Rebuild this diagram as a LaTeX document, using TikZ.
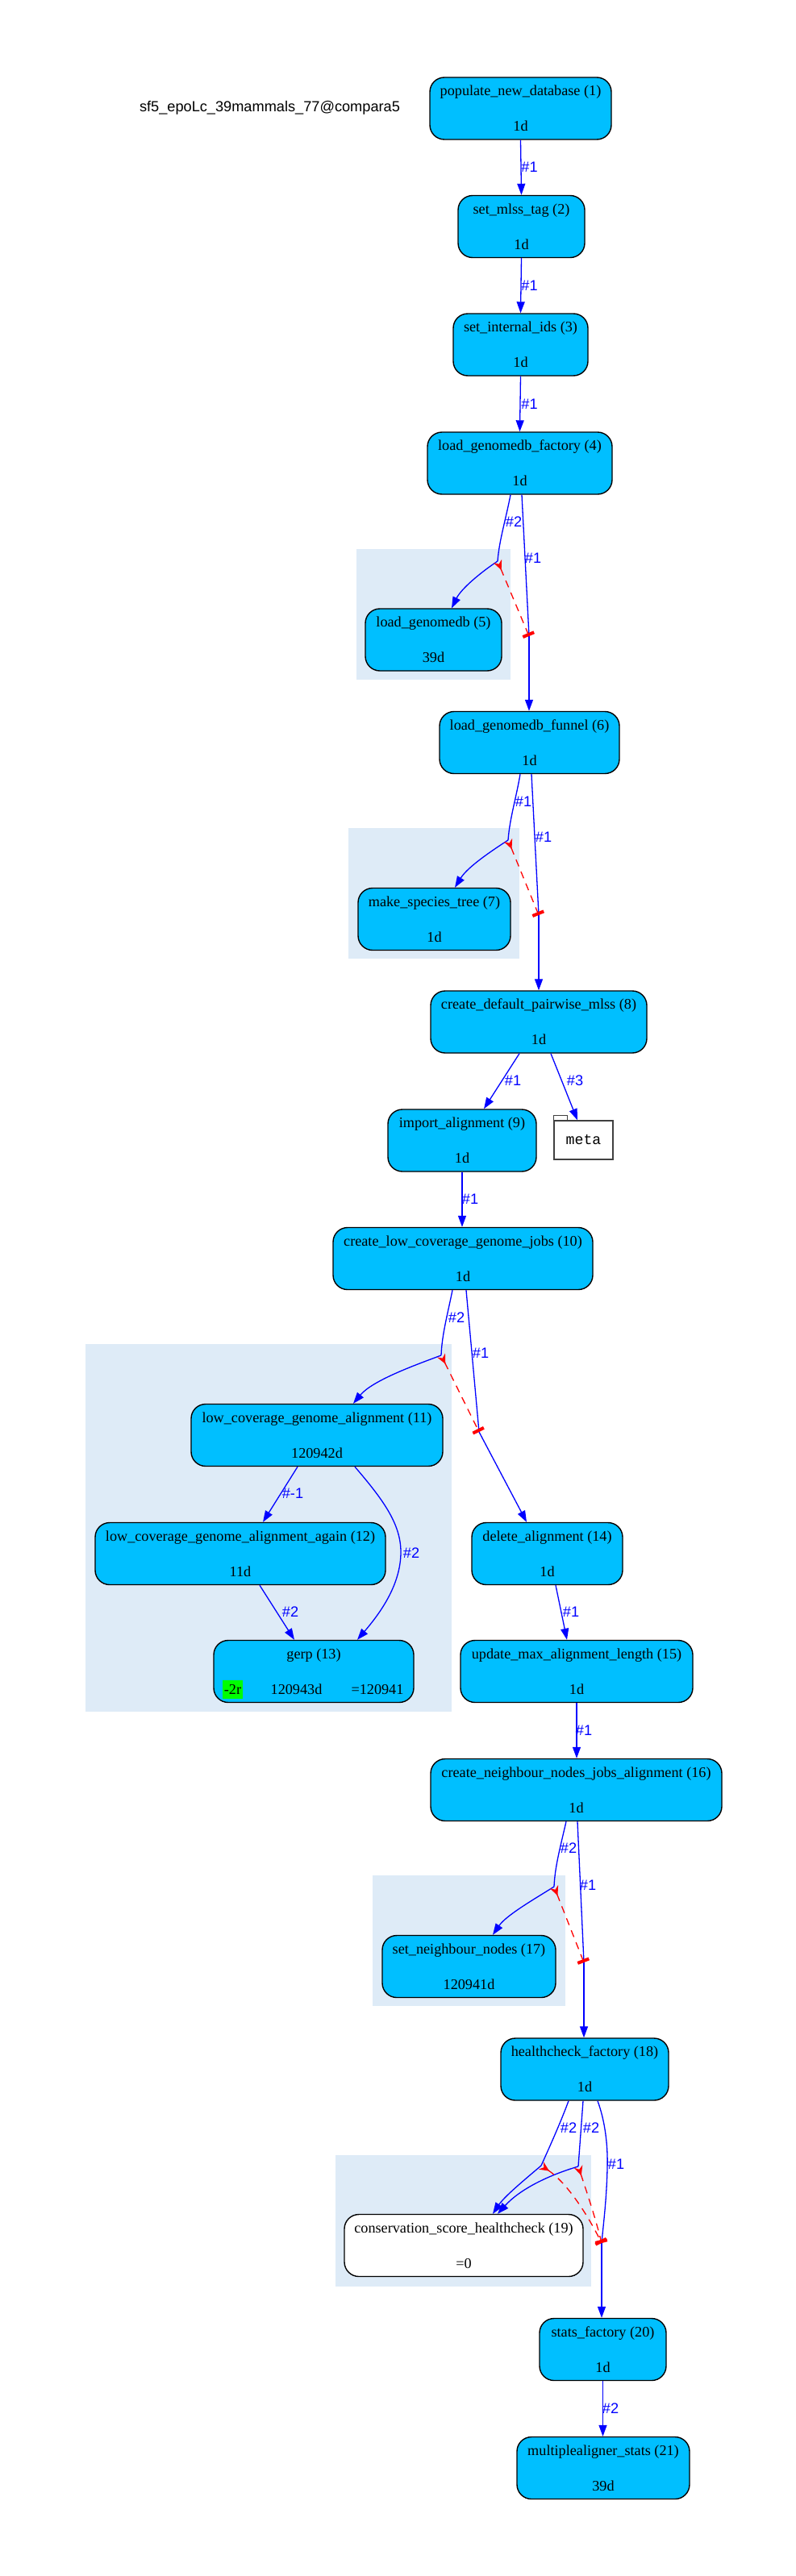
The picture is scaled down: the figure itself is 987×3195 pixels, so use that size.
\documentclass[tikz,border=0pt]{standalone}
\usepackage{fontspec}
\setmainfont{Liberation Serif}
\newfontfamily\lsans{Liberation Sans}
\newfontfamily\lmono{Liberation Mono}
\usetikzlibrary{arrows.meta,calc}
\definecolor{dsb}{RGB}{0,191,255}
\definecolor{clu}{RGB}{222,235,247}
\definecolor{grn}{RGB}{0,255,0}
\begin{document}
\begin{tikzpicture}[x=1pt,y=-1pt,
  job/.style={draw=black, line width=1.4pt, fill=dsb, rounded corners=18pt,
    minimum height=77pt, inner sep=0pt, align=center,
    font=\fontsize{18.2}{22}\selectfont},
  wjob/.style={job, fill=white},
  txt/.style={inner sep=0pt, font=\fontsize{18.2}{22}\selectfont},
  lbl/.style={inner sep=0pt, text=blue, font=\lsans\fontsize{18.2}{20}\selectfont},
  flow/.style={draw=blue, line width=1.3pt, -{Triangle[length=14pt,width=10pt]}},
  fan/.style={draw=blue, line width=1.3pt},
  semaph/.style={draw=red, line width=1.3pt, dash pattern=on 9pt off 7pt,
    {Stealth[reversed,length=12pt,width=11pt,inset=4pt]}-{Rectangle[length=4pt,width=15pt]}},
  clusterbox/.style={fill=clu, draw=none}
]
\useasboundingbox[fill=white] (0,0) rectangle (987,3195);

% clusters
\fill[clu] (442,681) rectangle (633,843);
\fill[clu] (432,1027) rectangle (644,1189);
\fill[clu] (106,1667) rectangle (560,2123);
\fill[clu] (462,2326) rectangle (701,2488);
\fill[clu] (416,2673) rectangle (733,2836);

% title
\node[inner sep=0pt, font=\lsans\fontsize{18.2}{20}\selectfont] (title) at (334.5,134) {sf5\_epoLc\_39mammals\_77@compara5};

% nodes
\node[job, minimum width=225pt] (n1) at (645.5,134.5) {populate\_new\_database (1)\\[22pt]1d};
\node[job, minimum width=157pt] (n2) at (646.5,281) {set\_mlss\_tag (2)\\[22pt]1d};
\node[job, minimum width=167pt] (n3) at (645.5,427.5) {set\_internal\_ids (3)\\[22pt]1d};
\node[job, minimum width=229pt] (n4) at (644.5,574.5) {load\_genomedb\_factory (4)\\[22pt]1d};
\node[job, minimum width=169pt] (n5) at (537.5,793.5) {load\_genomedb (5)\\[22pt]39d};
\node[job, minimum width=223pt] (n6) at (656.5,921) {load\_genomedb\_funnel (6)\\[22pt]1d};
\node[job, minimum width=189pt] (n7) at (538.5,1140) {make\_species\_tree (7)\\[22pt]1d};
\node[job, minimum width=268pt] (n8) at (668,1267.5) {create\_default\_pairwise\_mlss (8)\\[22pt]1d};
\node[job, minimum width=184pt] (n9) at (573,1414.5) {import\_alignment (9)\\[22pt]1d};
\node[draw=black!75, line width=1.4pt, fill=white, minimum width=73pt, minimum height=48pt, inner sep=0pt,
  font=\lmono\fontsize{18.2}{20}\selectfont] (meta) at (723.5,1414) {meta};
\draw[draw=black!75, line width=1.4pt, fill=white] (meta.north west) -- ++(0,-6) -- ++(17,0) -- ++(0,6);
\node[job, minimum width=322pt] (n10) at (574,1561) {create\_low\_coverage\_genome\_jobs (10)\\[22pt]1d};
\node[job, minimum width=312pt] (n11) at (393,1780) {low\_coverage\_genome\_alignment (11)\\[22pt]120942d};
\node[job, minimum width=360pt] (n12) at (298,1927) {low\_coverage\_genome\_alignment\_again (12)\\[22pt]11d};
\node[job, minimum width=248pt] (n13) at (389,2073) {};
\node[txt] (n13t) at (389,2053) {gerp (13)};
\node[txt, fill=grn, minimum width=25pt, minimum height=23pt] (n13r) at (288.5,2095.5) {-2r};
\node[txt] (n13d) at (367.5,2095.5) {120943d};
\node[txt] (n13e) at (468,2095.5) {=120941};
\node[job, minimum width=187pt] (n14) at (678.5,1927) {delete\_alignment (14)\\[22pt]1d};
\node[job, minimum width=288pt] (n15) at (715,2073) {update\_max\_alignment\_length (15)\\[22pt]1d};
\node[job, minimum width=361pt] (n16) at (714.5,2220) {create\_neighbour\_nodes\_jobs\_alignment (16)\\[22pt]1d};
\node[job, minimum width=215pt] (n17) at (581.5,2439) {set\_neighbour\_nodes (17)\\[22pt]120941d};
\node[job, minimum width=208pt] (n18) at (725,2566.5) {healthcheck\_factory (18)\\[22pt]1d};
\node[wjob, minimum width=296pt] (n19) at (575,2785) {conservation\_score\_healthcheck (19)\\[22pt]=0};
\node[job, minimum width=157pt] (n20) at (747.5,2914) {stats\_factory (20)\\[22pt]1d};
\node[job, minimum width=214pt] (n21) at (748,3061) {multiplealigner\_stats (21)\\[22pt]39d};

% fan and tee points
\coordinate (f1) at (617,696);   \coordinate (t1) at (656,789);
\coordinate (f2) at (630,1042);  \coordinate (t2) at (668,1135);
\coordinate (f3) at (547,1681);  \coordinate (t3) at (594,1776);
\coordinate (f4) at (687,2340);  \coordinate (t4) at (724,2434);
\coordinate (f5a) at (671,2686); \coordinate (f5b) at (717,2687);
\coordinate (t5) at (746,2782);

% simple edges
\draw[flow] (n1.south) -- (n2.north);
\node[lbl] (l1) at (656.5,207) {\#1};
\draw[flow] (n2.south) -- (n3.north);
\node[lbl] (l2) at (656.5,354) {\#1};
\draw[flow] (n3.south) -- (n4.north);
\node[lbl] (l3) at (656.5,501) {\#1};

% node 4 fan
\draw[fan] ($(n4.south)+(-11.5,0)$) .. controls (627,645) and (619,670) .. (f1);
\node[lbl] (l4a) at (637,647) {\#2};
\draw[flow] (f1) .. controls (596,710) and (572,730) .. ($(n5.north)+(22.5,0)$);
\draw[fan] ($(n4.south)+(2.5,0)$) -- (t1);
\node[lbl] (l4b) at (661,692) {\#1};
\draw[flow] (t1) -- (t1 |- n6.north);
\draw[semaph] (f1) -- (t1);

% node 6 fan
\draw[fan] ($(n6.south)+(-11.5,0)$) .. controls (640,990) and (632,1015) .. (f2);
\node[lbl] (l6a) at (649,994) {\#1};
\draw[flow] (f2) .. controls (610,1055) and (580,1075) .. ($(n7.north)+(25.5,0)$);
\draw[fan] ($(n6.south)+(2.5,0)$) -- (t2);
\node[lbl] (l6b) at (674,1038) {\#1};
\draw[flow] (t2) -- (t2 |- n8.north);
\draw[semaph] (f2) -- (t2);

% node 8
\draw[flow] ($(n8.south)+(-24,0)$) -- ($(n9.north)+(27,0)$);
\node[lbl] (l8a) at (636,1340) {\#1};
\draw[flow] ($(n8.south)+(15,0)$) -- ($(meta.north)+(-7.5,0)$);
\node[lbl] (l8b) at (713,1340) {\#3};
\draw[flow] (n9.south) -- (n10.north -| n9.south);
\node[lbl] (l9) at (583,1487) {\#1};

% node 10 fan
\draw[fan] ($(n10.south)+(-13,0)$) .. controls (555,1630) and (548,1655) .. (f3);
\node[lbl] (l10a) at (566,1634) {\#2};
\draw[flow] (f3) .. controls (515,1693) and (462,1712) .. ($(n11.north)+(45,0)$);
\draw[fan] ($(n10.south)+(4,0)$) -- (t3);
\node[lbl] (l10b) at (596,1678) {\#1};
\draw[flow] (t3) -- ($(n14.north)+(-25.5,0)$);
\draw[semaph] (f3) -- (t3);

% node 11
\draw[flow] ($(n11.south)+(-24,0)$) -- ($(n12.north)+(28,0)$);
\node[lbl] (l11a) at (363,1852) {\#-1};
\draw[flow] ($(n11.south)+(47,0)$) .. controls (475,1860) and (497,1890) .. (497,1925)
   .. controls (497,1965) and (472,2000) .. ($(n13.north)+(54,0)$);
\node[lbl] (l11b) at (510,1926) {\#2};
\draw[flow] ($(n12.south)+(24,0)$) -- ($(n13.north)+(-24,0)$);
\node[lbl] (l12) at (360,1999) {\#2};
\draw[flow] ($(n14.south)+(10.5,0)$) -- ($(n15.north)+(-12,0)$);
\node[lbl] (l14) at (708,1999) {\#1};
\draw[flow] (n15.south) -- (n16.north -| n15.south);
\node[lbl] (l15) at (724,2146) {\#1};

% node 16 fan
\draw[fan] ($(n16.south)+(-12.5,0)$) .. controls (695,2290) and (688,2315) .. (f4);
\node[lbl] (l16a) at (705,2292) {\#2};
\draw[flow] (f4) .. controls (665,2354) and (628,2375) .. ($(n17.north)+(29.5,0)$);
\draw[fan] ($(n16.south)+(1.5,0)$) -- (t4);
\node[lbl] (l16b) at (729,2338) {\#1};
\draw[flow] (t4) -- (t4 |- n18.north);
\draw[semaph] (f4) -- (t4);

% node 18 fans
\draw[fan] ($(n18.south)+(-20,0)$) .. controls (696,2630) and (685,2655) .. (f5a);
\node[lbl] (l18a) at (705,2639) {\#2};
\draw[fan] ($(n18.south)+(-2,0)$) -- (f5b);
\node[lbl] (l18b) at (733,2639) {\#2};
\draw[fan] ($(n18.south)+(16,0)$) .. controls (750,2630) and (754,2660) .. (753,2690)
   .. controls (752,2730) and (748,2760) .. (t5);
\node[lbl] (l18c) at (764,2684) {\#1};
\draw[flow] (f5a) .. controls (645,2708) and (625,2725) .. ($(n19.north)+(36,0)$);
\draw[flow] (f5b) .. controls (680,2698) and (645,2715) .. ($(n19.north)+(42,0)$);
\draw[flow] (t5) -- (t5 |- n20.north);
\draw[semaph] (f5a) .. controls (700,2705) and (725,2740) .. (t5);
\draw[semaph] (f5b) .. controls (728,2720) and (738,2750) .. (t5);
\draw[flow] (n20.south) -- (n21.north -| n20.south);
\node[lbl] (l20) at (757,2987) {\#2};
\end{tikzpicture}
\end{document}
